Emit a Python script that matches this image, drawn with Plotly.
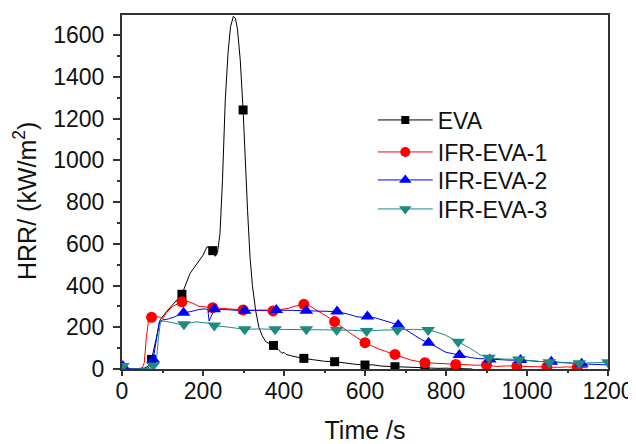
import plotly.graph_objects as go

# ---- data ----
eva_t = [0, 20, 40, 55, 65, 73, 85, 94, 110, 130, 148, 168, 185, 200, 210, 218, 224, 230, 236, 242, 248, 255, 262, 268, 275, 280, 285, 292, 299, 305, 310, 316, 322, 330, 338, 346, 355, 365, 374, 385, 395, 400, 405, 420, 435, 449, 470, 490, 500, 525, 545, 560, 580, 600, 620, 640, 660, 674, 700, 725, 748, 780, 800, 825, 850, 865]
eva_hrr = [0, 2, 0, 3, 15, 46, 150, 235, 275, 320, 358, 458, 506, 545, 586, 580, 567, 540, 560, 650, 900, 1289, 1520, 1640, 1690, 1680, 1630, 1480, 1241, 950, 760, 540, 400, 280, 200, 160, 131, 120, 113, 95, 75, 80, 70, 62, 58, 51, 45, 40, 37, 35, 30, 24, 22, 19, 20, 14, 12, 11, 8, 6, 4, 3, 4, 3, 2, 0]
eva_marks = [73, 148, 224, 299, 374, 449, 525, 600, 674, 748, 825]

ifr1_t = [0, 10, 20, 40, 50, 55, 60, 66, 73, 85, 95, 100, 110, 125, 140, 148, 160, 175, 190, 210, 224, 250, 275, 299, 320, 345, 373, 390, 410, 425, 440, 449, 465, 480, 500, 512, 525, 546, 570, 600, 630, 650, 674, 713, 748, 770, 800, 824, 850, 875, 900, 925, 950, 975, 1000, 1025, 1049, 1075, 1100, 1124, 1150]
ifr1_hrr = [10, 5, 0, 2, 5, 30, 150, 240, 248, 250, 248, 240, 270, 300, 315, 322, 325, 315, 300, 298, 294, 290, 285, 283, 282, 280, 278, 285, 290, 300, 305, 310, 300, 283, 262, 245, 227, 196, 163, 126, 99, 85, 70, 43, 30, 28, 25, 22, 20, 18, 19, 12, 15, 14, 10, 12, 10, 8, 10, 8, 6]
ifr1_marks = [73, 148, 224, 299, 373, 449, 525, 600, 674, 748, 824, 900, 975, 1049, 1124]

ifr2_t = [0, 2, 10, 20, 50, 65, 77, 85, 92, 100, 115, 130, 145, 152, 170, 190, 205, 212, 215, 220, 228, 260, 303, 340, 381, 420, 455, 490, 531, 560, 580, 595, 606, 625, 645, 665, 682, 700, 720, 740, 757, 775, 800, 833, 860, 880, 908, 940, 960, 984, 1010, 1030, 1060, 1090, 1110, 1135, 1165, 1200]
ifr2_hrr = [15, 14, 8, 0, 2, 5, 46, 150, 225, 235, 240, 250, 262, 270, 275, 285, 288, 285, 230, 250, 286, 284, 279, 282, 283, 281, 279, 278, 275, 262, 250, 248, 251, 245, 235, 222, 211, 190, 165, 140, 126, 105, 80, 67, 55, 50, 46, 44, 42, 43, 38, 36, 35, 30, 28, 25, 22, 20]
ifr2_marks = [2, 77, 152, 228, 303, 381, 455, 531, 606, 682, 757, 833, 908, 984, 1060, 1135]

ifr3_t = [0, 2, 10, 20, 50, 70, 77, 85, 90, 95, 102, 112, 125, 140, 153, 170, 185, 200, 215, 228, 245, 265, 303, 340, 378, 415, 455, 490, 530, 570, 604, 640, 680, 720, 756, 775, 798, 830, 860, 885, 906, 940, 980, 1010, 1030, 1055, 1090, 1129, 1160, 1200]
ifr3_hrr = [15, 14, 8, 0, 1, 3, 17, 40, 150, 225, 230, 228, 222, 215, 214, 222, 226, 222, 220, 208, 205, 200, 190, 192, 190, 190, 190, 188, 187, 185, 182, 186, 187, 190, 187, 178, 163, 131, 99, 67, 54, 48, 46, 40, 35, 32, 30, 27, 30, 32]
ifr3_marks = [2, 77, 153, 228, 303, 378, 455, 530, 604, 680, 756, 830, 906, 980, 1055, 1129, 1200]

x_ticks = [0, 200, 400, 600, 800, 1000, 1200]
y_ticks = [0, 200, 400, 600, 800, 1000, 1200, 1400, 1600]
x_range = [0, 1200]
y_range = [0, 1696]

series = [
    ("EVA", eva_t, eva_hrr, eva_marks, "#000000", "square", 9, "legend"),
    ("IFR-EVA-1", ifr1_t, ifr1_hrr, ifr1_marks, "#ff0000", "circle", 11, "legend2"),
    ("IFR-EVA-2", ifr2_t, ifr2_hrr, ifr2_marks, "#0000ff", "triangle-up", 12, "legend3"),
    ("IFR-EVA-3", ifr3_t, ifr3_hrr, ifr3_marks, "#1f8a80", "triangle-down", 12, "legend4"),
]

fig = go.Figure()
for name, t, y, marks, color, sym, size, leg in series:
    mt = [a for a in t if a in marks]
    my = [b for a, b in zip(t, y) if a in marks]
    fig.add_trace(go.Scatter(x=t, y=y, mode="lines", line=dict(color=color, width=1),
                             showlegend=False, hoverinfo="skip"))
    fig.add_trace(go.Scatter(x=mt, y=my, mode="markers", showlegend=False, xaxis="x2",
                             marker=dict(symbol=sym, size=size, color=color, line=dict(width=0))))
    fig.add_trace(go.Scatter(x=[None], y=[None], mode="lines+markers", name=name, legend=leg,
                             line=dict(color=color, width=1),
                             marker=dict(symbol=sym, size=size - 1, color=color, line=dict(width=0))))

font_family = "Liberation Sans, Arial, sans-serif"
axc = "#333333"
leg_common = dict(x=0.516, xanchor="left", yanchor="middle", bgcolor="rgba(0,0,0,0)",
                  font=dict(size=23), itemwidth=55)
fig.update_layout(
    width=628, height=436,
    margin=dict(l=114, r=28, t=7, b=75),
    paper_bgcolor="white", plot_bgcolor="white",
    font=dict(family=font_family, size=23, color="#111111"),
    showlegend=True,
    legend=dict(y=0.7034, **leg_common),
    legend2=dict(y=0.6130, **leg_common),
    legend3=dict(y=0.5339, **leg_common),
    legend4=dict(y=0.4520, **leg_common),
    # labels-only axis (no tick marks so labels sit close to the axis line)
    xaxis=dict(range=x_range, tickvals=x_ticks, ticks="", showline=True, linecolor=axc,
               linewidth=2, mirror=True, showgrid=False, zeroline=False, automargin=False,
               title=dict(text="Time /s", font=dict(size=25), standoff=20)),
    # tick-marks-only axis overlaid on the same range
    xaxis2=dict(range=x_range, overlaying="x", anchor="y", side="bottom", tickvals=x_ticks,
                showticklabels=False, ticks="outside", ticklen=6, tickwidth=1.5, tickcolor=axc,
                showline=False, showgrid=False, zeroline=False, automargin=False,
                minor=dict(dtick=100, ticks="outside", ticklen=3, tickwidth=1.5, tickcolor=axc, showgrid=False)),
    yaxis=dict(range=y_range, tickvals=y_ticks, ticks="outside", ticklen=7, tickwidth=1.5,
               tickcolor=axc, showline=True, linecolor=axc, linewidth=2, mirror=True,
               showgrid=False, zeroline=False, automargin=False, ticklabelstandoff=4,
               minor=dict(dtick=100, ticks="outside", ticklen=3, tickwidth=1.5, tickcolor=axc, showgrid=False)),
    annotations=[dict(text="HRR/ (kW/m<sup>2</sup>)", textangle=-90, xref="paper", yref="paper",
                      x=-0.1996, y=0.4746, xanchor="center", yanchor="middle", showarrow=False,
                      font=dict(size=25))],
)

fig.write_html("out.html")
